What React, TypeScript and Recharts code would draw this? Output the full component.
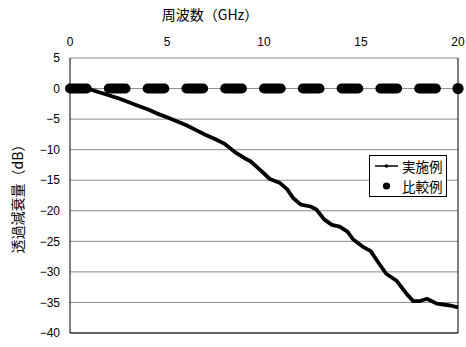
import React from "react"
import {
  LineChart,
  Line,
  XAxis,
  YAxis,
  CartesianGrid,
  Legend,
  ReferenceLine,
} from "recharts"

// 実施例: frequency (GHz) and transmission attenuation (dB)
const exampleFreq = [
  0, 0.5, 1.0, 1.5, 2.0, 2.5, 3.0, 3.5, 4.0, 4.5, 5.0, 5.5, 6.0, 6.5, 7.0, 7.5, 8.0, 8.5, 9.0,
  9.3, 9.8, 10.3, 10.8, 11.2, 11.5, 11.9, 12.4, 12.7, 13.1, 13.5, 13.9, 14.3, 14.6, 15.1, 15.5,
  15.9, 16.3, 16.85, 17.35, 17.7, 18.0, 18.4, 18.9, 19.6, 20,
]
const exampleDb = [
  0, 0, -0.1, -0.6, -1.1, -1.6, -2.2, -2.8, -3.4, -4.1, -4.7, -5.35, -6.0, -6.8, -7.6, -8.3, -9.1,
  -10.4, -11.4, -11.9, -13.3, -14.8, -15.4, -16.5, -17.9, -19.0, -19.3, -19.8, -21.4, -22.3,
  -22.6, -23.4, -24.7, -25.9, -26.6, -28.5, -30.3, -31.5, -33.6, -34.8, -34.8, -34.4, -35.2,
  -35.5, -35.8,
]

// 比較例: flat at 0 dB across the band
const compareFreq = [0, 20]
const compareDb = [0, 0]

const xTicks = [0, 5, 10, 15, 20]
const yTicks = [-40, -35, -30, -25, -20, -15, -10, -5, 0, 5]

const exampleData = exampleFreq.map((f, i) => ({ f, v: exampleDb[i] }))
const compareData = compareFreq.map((f, i) => ({ f, v: compareDb[i] }))

const font = "'Liberation Sans', 'Noto Sans CJK JP', sans-serif"
const jpFont = "'Noto Sans CJK JP', 'Liberation Sans', sans-serif"

const fmt = (v: number) => (v < 0 ? `\u2212${Math.abs(v)}` : `${v}`)

function LegendBox() {
  return (
    <div
      style={{
        border: "1px solid #000",
        background: "#fff",
        padding: "0 3px 0 5px",
        fontFamily: jpFont,
        fontSize: 13.5,
        lineHeight: "20px",
        color: "#000",
      }}
    >
      <div style={{ display: "flex", alignItems: "center", height: 20 }}>
        <svg width={24} height={14}>
          <line x1={0} y1={7} x2={23} y2={7} stroke="#000" strokeWidth={1.5} />
          <circle cx={11.5} cy={7} r={1.8} fill="#000" />
        </svg>
        <span style={{ marginLeft: 3 }}>実施例</span>
      </div>
      <div style={{ display: "flex", alignItems: "center", height: 20 }}>
        <svg width={24} height={14}>
          <circle cx={11.5} cy={7} r={3.6} fill="#000" />
        </svg>
        <span style={{ marginLeft: 3 }}>比較例</span>
      </div>
    </div>
  )
}

export default function App() {
  return (
    <div style={{ position: "absolute", left: 0, top: 0, background: "#fff" }}>
      <LineChart width={466} height={347} margin={{ top: 28, right: 8, bottom: 14, left: 0 }}>
        <CartesianGrid vertical={false} stroke="#8c8c8c" />
        <XAxis
          dataKey="f"
          type="number"
          orientation="top"
          domain={[0, 20]}
          ticks={xTicks}
          height={30}
          axisLine={false}
          tickLine={false}
          tickMargin={6}
          tick={{ fill: "#000", fontSize: 12, fontFamily: font }}
          label={{
            value: "周波数（GHz）",
            position: "top",
            dx: -54,
            offset: 8,
            style: { fill: "#000", fontSize: 14, fontFamily: jpFont },
          }}
          allowDuplicatedCategory={false}
        />
        <YAxis
          type="number"
          domain={[-40, 5]}
          ticks={yTicks}
          width={70}
          axisLine={{ stroke: "#000" }}
          tickLine={false}
          tickMargin={4}
          tickFormatter={fmt}
          tick={{ fill: "#000", fontSize: 12, fontFamily: font }}
          label={{
            value: "透過減衰量（dB）",
            angle: -90,
            position: "insideLeft",
            offset: 18,
            style: { fill: "#000", fontSize: 14, fontFamily: jpFont, textAnchor: "middle" },
          }}
        />
        <ReferenceLine x={20} stroke="#000" />
        <ReferenceLine y={-40} stroke="#000" />
        <Legend
          layout="vertical"
          align="center"
          verticalAlign="middle"
          content={() => <LegendBox />}
          wrapperStyle={{ position: "absolute", left: 369, top: 155, width: "auto" }}
        />
        <Line
          data={exampleData}
          dataKey="v"
          name="実施例"
          type="linear"
          stroke="#000"
          strokeWidth={3.8}
          strokeLinejoin="round"
          dot={false}
          isAnimationActive={false}
        />
        <Line
          data={compareData}
          dataKey="v"
          name="比較例"
          type="linear"
          stroke="#000"
          strokeWidth={10}
          strokeLinecap="round"
          strokeDasharray="16.7 22.1"
          dot={(p: any) =>
            p.index === compareData.length - 1 ? (
              <circle key={`d${p.index}`} cx={p.cx} cy={p.cy} r={5.6} fill="#000" />
            ) : (
              <g key={`d${p.index}`} />
            )
          }
          isAnimationActive={false}
        />
      </LineChart>
    </div>
  )
}
